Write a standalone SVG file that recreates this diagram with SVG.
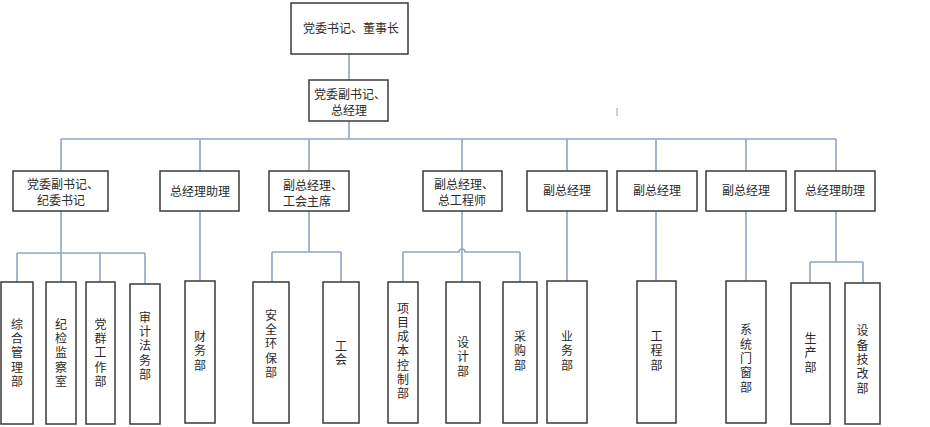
<svg xmlns="http://www.w3.org/2000/svg" width="930" height="427" viewBox="0 0 930 427">
<style>
.box{fill:#fff;stroke:#3a3a3a;stroke-width:1.5}
.t{font-family:"Noto Sans CJK SC","Noto Sans",sans-serif;font-size:12px;fill:#2a2a2a;dominant-baseline:central}
.m{text-anchor:middle}
.v{font-family:"Noto Sans CJK SC","Noto Sans",sans-serif;font-size:12px;fill:#2a2a2a;writing-mode:vertical-rl;text-anchor:middle;letter-spacing:2.3px}
.c{fill:none;stroke:#8fa6c4;stroke-width:1.6}
</style>
<rect width="930" height="427" fill="#fff"/>
<g id="connectors">
<path class="c" d="M349 54V80M349 121V139M61 139H836M61 139V171M200 139V171M309 139V171M462 139V171M567 139V171M656 139V171M746 139V171M836 139V171"/>
<path class="c" d="M61 211V282M17 253H145M17 253V282M100 253V282M145 253V284"/>
<path class="c" d="M200 211V281"/>
<path class="c" d="M309 211V252M272 252H341M272 252V282M341 252V282"/>
<path class="c" d="M462 211V282M403 252H459A3 3 0 0 1 465 252H520M403 252V282M520 252V282"/>
<path class="c" d="M567 211V281M656 211V281M746 211V281"/>
<path class="c" d="M836 211V262M810 262H863M810 262V283M863 262V283"/>
<path class="c" d="M617 108V116" style="stroke:#b5c6dc"/>
</g>
<g id="n-chair"><rect class="box" x="291" y="3" width="117" height="51"/><text class="t" x="303" y="27">党委书记、董事长</text></g>
<g id="n-gm"><rect class="box" x="309" y="80" width="79" height="41"/><text class="t" x="314" y="93">党委副书记、</text><text class="t" x="331" y="109">总经理</text></g>
<g id="n-m1"><rect class="box" x="13" y="171" width="95" height="40"/><text class="t" x="27" y="183">党委副书记、</text><text class="t" x="37" y="199">纪委书记</text></g>
<g id="n-m2"><rect class="box" x="160" y="171" width="79" height="40"/><text class="t m" x="200" y="190">总经理助理</text></g>
<g id="n-m3"><rect class="box" x="269" y="171" width="80" height="40"/><text class="t" x="283" y="184">副总经理、</text><text class="t" x="283" y="200">工会主席</text></g>
<g id="n-m4"><rect class="box" x="423" y="171" width="79" height="40"/><text class="t" x="434" y="183">副总经理、</text><text class="t" x="438" y="199">总工程师</text></g>
<g id="n-m5"><rect class="box" x="527" y="171" width="80" height="40"/><text class="t m" x="567" y="189">副总经理</text></g>
<g id="n-m6"><rect class="box" x="617" y="171" width="80" height="40"/><text class="t m" x="657" y="189">副总经理</text></g>
<g id="n-m7"><rect class="box" x="706" y="171" width="80" height="40"/><text class="t m" x="746" y="189">副总经理</text></g>
<g id="n-m8"><rect class="box" x="795" y="171" width="80" height="40"/><text class="t m" x="835" y="189">总经理助理</text></g>
<g id="n-b1"><rect class="box" x="1" y="282" width="32" height="142"/><text class="v" x="17" y="354">综合管理部</text></g>
<g id="n-b2"><rect class="box" x="46" y="282" width="30" height="142"/><text class="v" x="61" y="354">纪检监察室</text></g>
<g id="n-b3"><rect class="box" x="86" y="282" width="29" height="142"/><text class="v" x="100.5" y="354">党群工作部</text></g>
<g id="n-b4"><rect class="box" x="130" y="284" width="30" height="140"/><text class="v" x="145" y="347">审计法务部</text></g>
<g id="n-b5"><rect class="box" x="185" y="281" width="30" height="142"/><text class="v" x="200" y="352">财务部</text></g>
<g id="n-b6"><rect class="box" x="253" y="282" width="36" height="141"/><text class="v" x="271" y="345">安全环保部</text></g>
<g id="n-b7"><rect class="box" x="323" y="282" width="36" height="141"/><text class="v" x="341" y="353.5" style="letter-spacing:1px">工会</text></g>
<g id="n-b8"><rect class="box" x="388" y="282" width="30" height="141"/><text class="v" x="403" y="352" style="letter-spacing:2.2px">项目成本控制部</text></g>
<g id="n-b9"><rect class="box" x="446" y="282" width="34" height="141"/><text class="v" x="463" y="358">设计部</text></g>
<g id="n-b10"><rect class="box" x="503" y="282" width="34" height="141"/><text class="v" x="520" y="352">采购部</text></g>
<g id="n-b11"><rect class="box" x="547" y="281" width="40" height="142"/><text class="v" x="567" y="352">业务部</text></g>
<g id="n-b12"><rect class="box" x="637" y="281" width="39" height="142"/><text class="v" x="656.5" y="352">工程部</text></g>
<g id="n-b13"><rect class="box" x="726" y="281" width="40" height="142"/><text class="v" x="746" y="359.5">系统门窗部</text></g>
<g id="n-b14"><rect class="box" x="791" y="283" width="39" height="141"/><text class="v" x="810.5" y="354">生产部</text></g>
<g id="n-b15"><rect class="box" x="845" y="283" width="35" height="141"/><text class="v" x="862.5" y="360.5">设备技改部</text></g>
</svg>
